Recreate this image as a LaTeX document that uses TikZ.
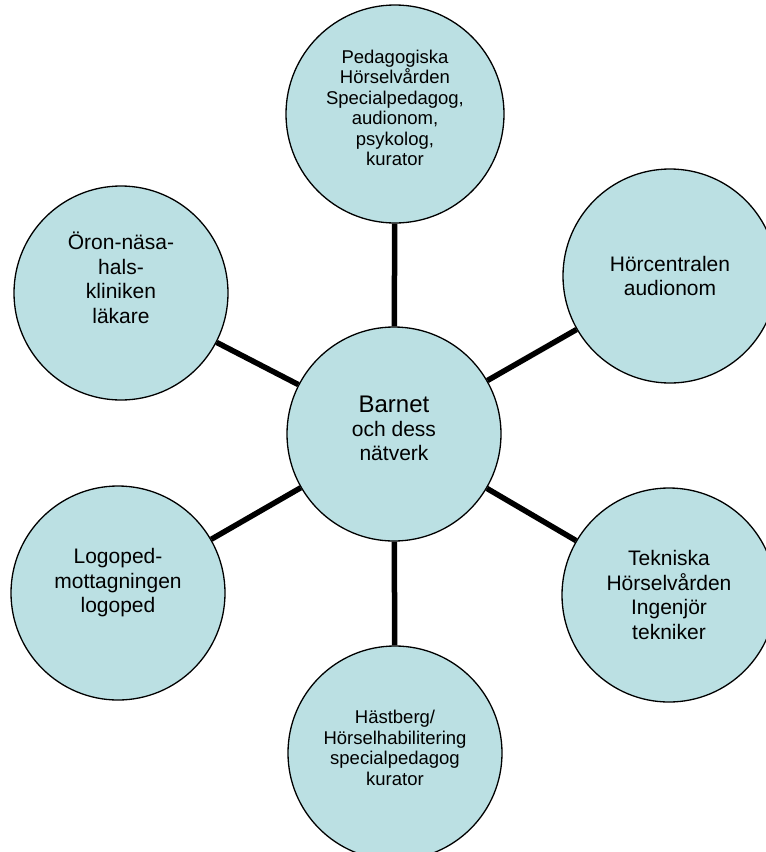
\documentclass[tikz,border=0pt]{standalone}
\usepackage{fontspec}
\setmainfont{Liberation Sans}
\definecolor{bubblefill}{HTML}{BBE0E3}
\tikzset{
  bubble/.style={circle, draw=black, line width=1.3pt, fill=bubblefill, minimum size=214pt, inner sep=0pt},
  link/.style={line width=5.5pt, draw=black},
  bigtxt/.style={align=center, font=\fontsize{21}{24.5}\selectfont, inner sep=0pt},
  smalltxt/.style={align=center, font=\fontsize{18.5}{20.5}\selectfont, inner sep=0pt},
}
\begin{document}
\begin{tikzpicture}[x=1pt,y=-1pt]
\useasboundingbox (0,0) rectangle (766,852);
\clip (0,0) rectangle (766,852);
% circles
\node[bubble] (mid) at (394,434) {};
\node[bubble, minimum size=218pt] (ped) at (395,114) {};
\node[bubble] (hor) at (670,276) {};
\node[bubble] (oro) at (121,293) {};
\node[bubble] (log) at (118,593) {};
\node[bubble] (tek) at (669,595) {};
\node[bubble] (has) at (395,753) {};
% texts
\node[bigtxt, font=\fontsize{21}{23.5}\selectfont] (midt) at (394,428)
  {{\fontsize{24}{27}\selectfont Barnet}\\[1pt]och dess\\nätverk};
\node[smalltxt] (pedt) at (395,108) {Pedagogiska\\Hörselvården\\Specialpedagog,\\audionom,\\psykolog,\\kurator};
\node[bigtxt] (hort) at (670,276) {Hörcentralen\\audionom};
\node[bigtxt] (orot) at (121,278) {Öron-näsa-\\hals-\\kliniken\\läkare};
\node[bigtxt] (logt) at (118,583) {Logoped-\\mottagningen\\logoped};
\node[bigtxt] (tekt) at (669,595) {Tekniska\\Hörselvården\\Ingenjör\\tekniker};
\node[smalltxt] (hast) at (395,748) {Hästberg/\\Hörselhabilitering\\specialpedagog\\kurator};
% connectors
\draw[link] (mid) -- (ped);
\draw[link] (mid) -- (hor);
\draw[link] (mid) -- (oro);
\draw[link] (mid) -- (log);
\draw[link] (mid) -- (tek);
\draw[link] (mid) -- (has);
\end{tikzpicture}
\end{document}
